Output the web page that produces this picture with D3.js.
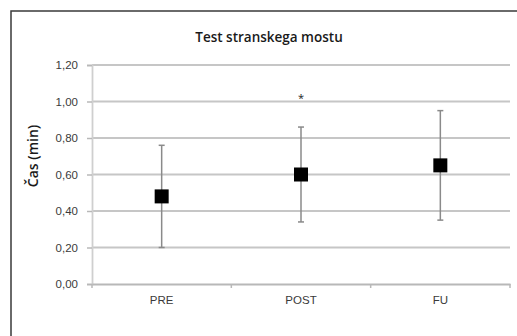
<!DOCTYPE html>
<html>
<head>
<meta charset="utf-8">
<script src="https://cdn.jsdelivr.net/npm/d3@7.9.0/dist/d3.min.js"></script>
<style>
  html, body { margin: 0; padding: 0; background: #fff; }
  svg { display: block; font-family: "Open Sans", "Noto Sans", sans-serif; }
</style>
</head>
<body>
<svg id="chart" width="517" height="336"></svg>
<script>
// podatki
const categories = ['PRE', 'POST', 'FU'];
const means = [0.48, 0.60, 0.65];
const sds = [0.28, 0.26, 0.30];
const yTicks = [0, 0.2, 0.4, 0.6, 0.8, 1.0, 1.2];
const marks = [{ cat: 'POST', value: 1.03, text: '*' }];

const svg = d3.select('#chart');
const W = 517, H = 336;
const m = { left: 92, right: 7, top: 65, bottom: 52 };

// okvir
svg.append('rect')
  .attr('x', 11).attr('y', 11)
  .attr('width', W + 20).attr('height', H + 20)
  .attr('fill', 'none').attr('stroke', '#3a3a3a').attr('stroke-width', 1.5);

const x = d3.scaleBand().domain(categories).range([m.left, W - m.right]);
const y = d3.scaleLinear().domain([0, 1.2]).range([H - m.bottom, m.top]);

// mreža
svg.append('g')
  .selectAll('line')
  .data(yTicks.slice(1))
  .join('line')
  .attr('x1', m.left).attr('x2', W - m.right)
  .attr('y1', (d) => y(d)).attr('y2', (d) => y(d))
  .attr('stroke', '#c6c6c6').attr('stroke-width', 2);

// y os
const yAxis = svg.append('g')
  .attr('transform', `translate(${m.left},0)`)
  .call(d3.axisLeft(y).tickValues(yTicks).tickSize(5).tickPadding(9)
    .tickFormat((d) => d3.format('.2f')(d).replace('.', ',')));
yAxis.select('.domain').attr('stroke', '#cfcfcf').attr('stroke-width', 1.8);
yAxis.selectAll('.tick line').attr('stroke', '#b8b8b8').attr('stroke-width', 1.5);
yAxis.selectAll('text').attr('fill', '#3a3a3a').style('font-size', '11.5px');

// x os
const xAxis = svg.append('g')
  .attr('transform', `translate(0,${y(0)})`)
  .call(d3.axisBottom(x).tickSize(0).tickPadding(12));
xAxis.select('.domain').attr('stroke', '#b8b8b8').attr('stroke-width', 2);
xAxis.selectAll('text').attr('fill', '#3a3a3a').style('font-size', '11.5px');
xAxis.selectAll('.sep')
  .data(categories.concat(['end']))
  .join('line')
  .attr('class', 'sep')
  .attr('x1', (d, i) => m.left + i * x.bandwidth())
  .attr('x2', (d, i) => m.left + i * x.bandwidth())
  .attr('y1', 0).attr('y2', 4)
  .attr('stroke', '#b8b8b8').attr('stroke-width', 1.5);

// stolpci napak
const cx = (c) => x(c) + x.bandwidth() / 2;
const g = svg.append('g');
categories.forEach((c, i) => {
  const top = y(means[i] + sds[i]);
  const bot = y(means[i] - sds[i]);
  g.append('line')
    .attr('x1', cx(c)).attr('x2', cx(c)).attr('y1', top).attr('y2', bot)
    .attr('stroke', '#8a8a8a').attr('stroke-width', 1.5);
  [top, bot].forEach((yy) => {
    g.append('line')
      .attr('x1', cx(c) - 3).attr('x2', cx(c) + 3).attr('y1', yy).attr('y2', yy)
      .attr('stroke', '#8a8a8a').attr('stroke-width', 1.5);
  });
  g.append('rect')
    .attr('x', cx(c) - 7).attr('y', y(means[i]) - 7)
    .attr('width', 14).attr('height', 14)
    .attr('fill', '#000');
});

// zvezdica
svg.selectAll('.star')
  .data(marks)
  .join('text')
  .attr('class', 'star')
  .attr('x', (d) => cx(d.cat))
  .attr('y', (d) => y(d.value) + 6)
  .attr('text-anchor', 'middle')
  .attr('fill', '#222')
  .style('font-size', '11px')
  .text((d) => d.text);

// naslov
svg.append('text')
  .attr('x', 269).attr('y', 42)
  .attr('text-anchor', 'middle')
  .attr('fill', '#1a1a1a')
  .style('font-size', '13.5px')
  .style('font-weight', 600)
  .text('Test stranskega mostu');

// naslov osi y
svg.append('text')
  .attr('transform', 'translate(38,156) rotate(-90)')
  .attr('text-anchor', 'middle')
  .attr('fill', '#1a1a1a')
  .style('font-size', '14px')
  .style('font-weight', 600)
  .text('Čas (min)');
</script>
</body>
</html>
